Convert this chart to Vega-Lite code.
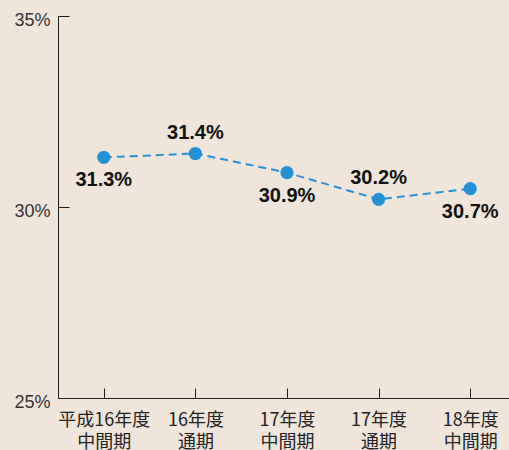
{
  "$schema": "https://vega.github.io/schema/vega-lite/v6.json",
  "autosize": {"type": "none"},
  "padding": {"left": 58, "top": 16, "right": 0, "bottom": 52},
  "width": 458,
  "height": 382,
  "background": "#efe5da",
  "config": {
    "view": {"stroke": null},
    "axis": {"grid": false, "domainColor": "#222", "tickColor": "#222", "domainWidth": 1, "tickWidth": 1}
  },
  "data": {
    "values": [
      {"period": "平成16年度\n中間期", "value": 31.3, "label": "31.3%", "side": "below"},
      {"period": "16年度\n通期", "value": 31.4, "label": "31.4%", "side": "above"},
      {"period": "17年度\n中間期", "value": 30.9, "label": "30.9%", "side": "below"},
      {"period": "17年度\n通期", "value": 30.2, "label": "30.2%", "side": "above"},
      {"period": "18年度\n中間期", "value": 30.48, "label": "30.7%", "side": "below"}
    ]
  },
  "encoding": {
    "x": {
      "field": "period", "type": "ordinal", "sort": null,
      "scale": {"type": "point", "padding": 0.5},
      "axis": {
        "title": null, "labelAngle": 0, "tickSize": -10, "labelPadding": 23,
        "labelExpr": "split(datum.label, '\\n')",
        "labelFont": "Noto Sans CJK JP", "labelFontSize": 18, "labelLineHeight": 22,
        "labelColor": "#222", "labelBaseline": "top"
      }
    },
    "y": {
      "field": "value", "type": "quantitative",
      "scale": {"domain": [25, 35], "nice": false, "zero": false},
      "axis": {
        "title": null, "values": [25, 30, 35], "tickSize": -11, "labelPadding": 19,
        "labelExpr": "datum.value + '%'", "labelFont": "Liberation Sans",
        "labelFontSize": 18, "labelColor": "#333", "labelOffset": 4
      }
    }
  },
  "layer": [
    {"mark": {"type": "line", "color": "#2491d6", "strokeWidth": 2, "strokeDash": [8, 5]}},
    {"mark": {"type": "point", "filled": true, "opacity": 1, "color": "#2491d6", "size": 175}},
    {
      "transform": [{"filter": "datum.side === 'above'"}],
      "mark": {"type": "text", "font": "Liberation Sans", "fontSize": 20, "fontWeight": "bold", "color": "#111", "dy": -21},
      "encoding": {"text": {"field": "label"}}
    },
    {
      "transform": [{"filter": "datum.side === 'below'"}],
      "mark": {"type": "text", "font": "Liberation Sans", "fontSize": 20, "fontWeight": "bold", "color": "#111", "dy": 23},
      "encoding": {"text": {"field": "label"}}
    }
  ]
}
